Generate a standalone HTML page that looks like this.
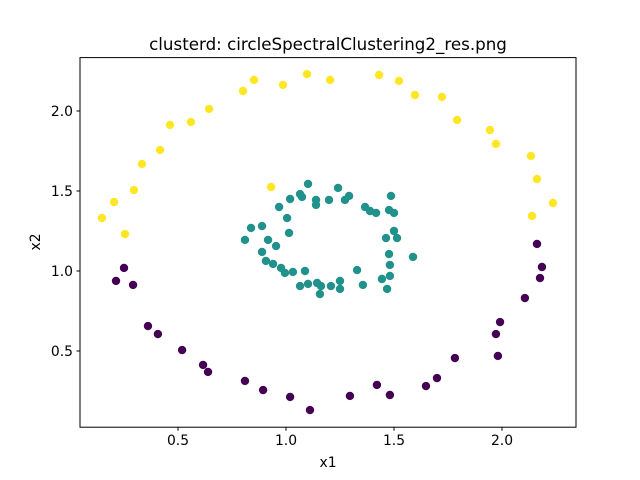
<!DOCTYPE html>
<html><head><meta charset="utf-8"><style>
html,body{margin:0;padding:0;background:#fff;}
svg{display:block;font-family:"DejaVu Sans","Liberation Sans",sans-serif;}
</style></head><body>
<svg id="chart" width="640" height="480" viewBox="0 0 640 480">
<rect width="640" height="480" fill="#fff"/>
<text x="328" y="50" font-size="16.7" text-anchor="middle">clusterd: circleSpectralClustering2_res.png</text>
<g id="marks"></g>
<rect x="80" y="57.6" width="496" height="369.6" fill="none" stroke="#000" stroke-width="1"/>
<g id="axes"></g>
<text x="328" y="467" font-size="13.9" text-anchor="middle">x1</text>
<text x="40" y="242" font-size="13.9" text-anchor="middle" transform="rotate(-90 40 242)">x2</text>
</svg>
<script>
const yellowX=[0.148,0.204,0.255,0.296,0.333,0.417,0.463,0.560,0.644,0.801,0.852,0.931,0.986,1.097,1.204,1.431,1.523,1.597,1.722,1.792,1.944,1.972,2.134,2.162,2.139,2.236];
const yellowY=[1.331,1.431,1.231,1.506,1.669,1.756,1.913,1.931,2.013,2.125,2.194,1.525,2.163,2.231,2.194,2.225,2.188,2.100,2.088,1.944,1.881,1.794,1.719,1.575,1.344,1.425];
const purpleX=[0.250,0.213,0.292,0.361,0.407,0.519,0.616,0.639,0.810,0.894,1.019,1.111,1.296,1.421,1.481,1.648,1.699,1.782,1.972,1.991,1.981,2.106,2.162,2.185,2.176];
const purpleY=[1.019,0.938,0.913,0.656,0.606,0.506,0.413,0.369,0.313,0.256,0.213,0.131,0.219,0.288,0.225,0.281,0.331,0.456,0.606,0.681,0.469,0.831,1.169,1.025,0.956];
const tealX=[0.810,0.838,0.889,0.917,0.954,0.889,0.907,0.940,0.977,0.995,1.032,1.065,1.088,1.014,1.005,0.968,1.019,1.065,1.074,1.102,1.139,1.139,1.199,1.241,1.273,1.292,1.366,1.389,1.417,1.477,1.486,1.500,1.500,1.463,1.514,1.477,1.481,1.481,1.444,1.468,1.588,1.329,1.356,1.250,1.250,1.208,1.162,1.144,1.157,1.102];
const tealY=[1.194,1.269,1.281,1.194,1.156,1.119,1.063,1.044,1.019,0.988,0.994,0.906,1.000,1.238,1.331,1.400,1.450,1.481,1.463,1.544,1.444,1.413,1.444,1.519,1.444,1.469,1.400,1.375,1.363,1.381,1.469,1.363,1.250,1.206,1.206,1.106,1.038,0.969,0.950,0.888,1.088,1.006,0.913,0.938,0.888,0.906,0.906,0.925,0.856,0.919];
const xTicks=[0.5,1.0,1.5,2.0];
const xTickLabels=["0.5","1.0","1.5","2.0"];
const yTicks=[0.5,1.0,1.5,2.0];
const yTickLabels=["0.5","1.0","1.5","2.0"];

const NS="http://www.w3.org/2000/svg";
function sx(v){return 70+216*v;}
function sy(v){return 431-160*v;}
const marks=document.getElementById('marks');
function series(xs,ys,color,name){
  const g=document.createElementNS(NS,'g');
  
  
  for(let i=0;i<xs.length;i++){
    const c=document.createElementNS(NS,'circle');
    c.setAttribute('cx',sx(xs[i]));c.setAttribute('cy',sy(ys[i]));
    c.setAttribute('r',4.2);c.setAttribute('fill',color);
    
    
    g.appendChild(c);
  }
  marks.appendChild(g);
}
series(purpleX,purpleY,'#440154','purple-cluster');
series(tealX,tealY,'#21918c','teal-cluster');
series(yellowX,yellowY,'#fde725','yellow-cluster');

const axes=document.getElementById('axes');
xTicks.forEach((t,i)=>{
  const l=document.createElementNS(NS,'line');
  l.setAttribute('x1',sx(t));l.setAttribute('x2',sx(t));l.setAttribute('y1',427.2);l.setAttribute('y2',430.7);l.setAttribute('stroke','#000');
  
  
  axes.appendChild(l);
  const tx=document.createElementNS(NS,'text');
  tx.setAttribute('x',sx(t));tx.setAttribute('y',445);tx.setAttribute('font-size','13.9');tx.setAttribute('text-anchor','middle');
  tx.textContent=xTickLabels[i];
  
  
  axes.appendChild(tx);
});
yTicks.forEach((t,i)=>{
  const l=document.createElementNS(NS,'line');
  l.setAttribute('x1',76.5);l.setAttribute('x2',80);l.setAttribute('y1',sy(t));l.setAttribute('y2',sy(t));l.setAttribute('stroke','#000');
  
  
  axes.appendChild(l);
  const tx=document.createElementNS(NS,'text');
  tx.setAttribute('x',73);tx.setAttribute('y',sy(t)+5);tx.setAttribute('font-size','13.9');tx.setAttribute('text-anchor','end');
  tx.textContent=yTickLabels[i];
  
  
  axes.appendChild(tx);
});
</script>
</body></html>
